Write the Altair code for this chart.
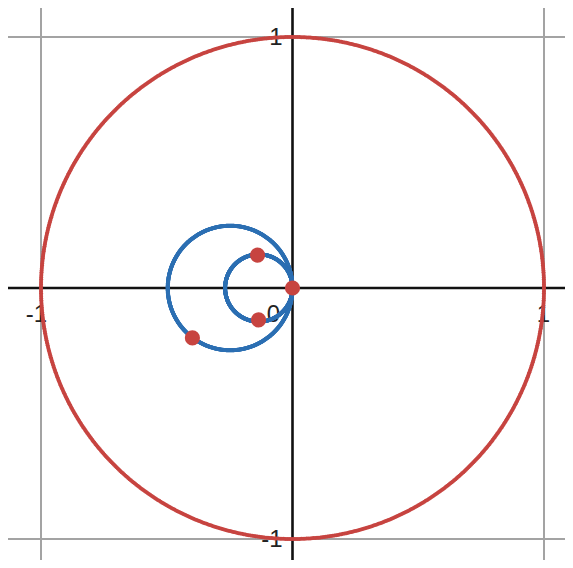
import numpy as np
import pandas as pd
import altair as alt

# ---- values ----
# circles: unit circle (red) and the two blue loops
circle_names = ["unit", "outer_loop", "inner_loop"]
circle_cx = [0.0, -0.248, -0.134]
circle_cy = [0.0, 0.0, 0.0]
circle_r = [1.0, 0.248, 0.134]
circle_kind = ["red", "blue", "blue"]

# red points
point_x = [0.0, -0.139, -0.135, -0.398]
point_y = [0.0, 0.131, -0.127, -0.199]

# grid lines
grid_values = [-1, 1]

# tick labels
x_label_text = ["-1", "1"]
x_label_pos = [-1, 1]
y_label_text = ["1", "-1"]
y_label_pos = [1, -1]
origin_label = ["0"]

# ---- tables ----
angles = np.arange(0, 360, 0.4)


def circle_table(cx, cy, r):
    t = np.deg2rad(angles)
    return pd.DataFrame({"x": cx + r * np.cos(t), "y": cy + r * np.sin(t)})


points = pd.DataFrame({"x": point_x, "y": point_y})
grid = pd.DataFrame({"v": grid_values})
xlab = pd.DataFrame({"t": x_label_text, "x": x_label_pos, "y": [0] * len(x_label_pos)})
ylab = pd.DataFrame({"t": y_label_text, "x": [0] * len(y_label_pos), "y": y_label_pos})
olab = pd.DataFrame({"t": origin_label, "x": [0], "y": [0]})
axes0 = pd.DataFrame({"v": [0]})

# plot area: page x 8..565, y 8..560 (no scrollbars)
W, H = 557, 552
x0, x_per = 292.5, 251.5
y0, y_per = 288.0, 251.0
xs = alt.Scale(domain=[(8 - x0) / x_per, (8 + W - x0) / x_per], nice=False, zero=False)
ys = alt.Scale(domain=[(y0 - 8 - H) / y_per, (y0 - 8) / y_per], nice=False, zero=False)

RED = "#c74440"
BLUE = "#2d70b3"
FONT = "Liberation Sans"
colors = {"red": RED, "blue": BLUE}

vgrid = alt.Chart(grid).mark_rule(color="#a3a3a3", strokeWidth=2).encode(
    x=alt.X("v:Q", scale=xs, axis=None))
hgrid = alt.Chart(grid).mark_rule(color="#a3a3a3", strokeWidth=2).encode(
    y=alt.Y("v:Q", scale=ys, axis=None))
vaxis = alt.Chart(axes0).mark_rule(color="#111111", strokeWidth=2.6).encode(
    x=alt.X("v:Q", scale=xs, axis=None))
haxis = alt.Chart(axes0).mark_rule(color="#111111", strokeWidth=2.6).encode(
    y=alt.Y("v:Q", scale=ys, axis=None))

xtext = alt.Chart(xlab).mark_text(font=FONT, fontSize=24, color="#222222",
                                  align="right", baseline="alphabetic", dx=6, dy=34).encode(
    x=alt.X("x:Q", scale=xs, axis=None), y=alt.Y("y:Q", scale=ys, axis=None), text="t:N")
ytext = alt.Chart(ylab).mark_text(font=FONT, fontSize=24, color="#222222",
                                  align="right", baseline="alphabetic", dx=-10, dy=8).encode(
    x=alt.X("x:Q", scale=xs, axis=None), y=alt.Y("y:Q", scale=ys, axis=None), text="t:N")
otext = alt.Chart(olab).mark_text(font=FONT, fontSize=24, color="#222222",
                                  align="center", baseline="alphabetic", dx=-19, dy=33.5).encode(
    x=alt.X("x:Q", scale=xs, axis=None), y=alt.Y("y:Q", scale=ys, axis=None), text="t:N")

# each curve drawn as a dense chain of small round dots (a 4.5px stroke)
curve_layers = []
for name, cx, cy, r, kind in zip(circle_names, circle_cx, circle_cy, circle_r, circle_kind):
    curve_layers.append(
        alt.Chart(circle_table(cx, cy, r)).mark_circle(size=16, color=colors[kind], opacity=1).encode(
            x=alt.X("x:Q", scale=xs, axis=None),
            y=alt.Y("y:Q", scale=ys, axis=None),
        )
    )

dots = alt.Chart(points).mark_circle(size=230, color=RED, opacity=1).encode(
    x=alt.X("x:Q", scale=xs, axis=None), y=alt.Y("y:Q", scale=ys, axis=None))

chart = alt.layer(vgrid, hgrid, vaxis, haxis, xtext, ytext, otext, *curve_layers, dots).properties(
    width=W, height=H, padding=0, autosize=alt.AutoSizeParams(type="none"),
    background="white",
).configure_view(stroke=None)

chart.save("out.html", embed_options={"renderer": "svg", "actions": False})
